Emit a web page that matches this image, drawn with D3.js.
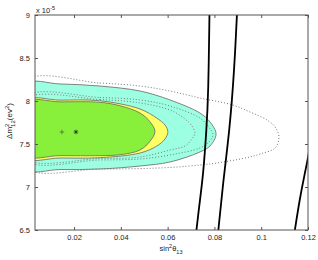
<!DOCTYPE html>
<html>
<head>
<meta charset="utf-8">
<script src="https://cdn.jsdelivr.net/npm/d3@7"></script>
<style>
body { margin: 0; background: #fff; }
text { font-family: "Liberation Sans", Arial, sans-serif; fill: #222; }
</style>
</head>
<body>
<svg id="chart" width="318" height="260"></svg>
<script>
// tick values
const xTicks = [0.02, 0.04, 0.06, 0.08, 0.1, 0.12]
const yTicks = [6.5, 7, 7.5, 8, 8.5, 9]

// filled regions, [sin^2 theta13, dm2 (1e-5 eV^2)]
const region99 = [[-0.001, 8.192], [0.014, 8.198], [0.031, 8.174], [0.0482, 8.116], [0.061, 8.012],
    [0.0738, 7.86], [0.0781, 7.756], [0.0807, 7.616], [0.0781, 7.477], [0.0738, 7.407],
    [0.061, 7.291], [0.0482, 7.244], [0.031, 7.209], [0.014, 7.203], [-0.001, 7.215]]
const region95 = [[-0.001, 8.003], [0.014, 8.01], [0.031, 8.003], [0.0482, 7.907], [0.0554, 7.80],
    [0.0589, 7.72], [0.0601, 7.643], [0.0589, 7.56], [0.0554, 7.477], [0.0482, 7.395],
    [0.031, 7.341], [0.014, 7.337], [-0.001, 7.343]]
const region90 = [[-0.001, 7.985], [0.014, 7.99], [0.031, 7.985], [0.0396, 7.945], [0.0482, 7.86],
    [0.0524, 7.76], [0.0546, 7.645], [0.0524, 7.53], [0.0482, 7.43], [0.0396, 7.375],
    [0.031, 7.365], [0.014, 7.365], [-0.001, 7.37]]

// dotted contours
const dottedInner = [[-0.001, 8.017], [0.031, 8.017], [0.0482, 7.977], [0.061, 7.895], [0.0674, 7.791],
    [0.0704, 7.709], [0.0717, 7.628], [0.0704, 7.558], [0.0674, 7.477], [0.061, 7.43],
    [0.0482, 7.349], [0.031, 7.331], [-0.001, 7.337]]
const dottedMiddle = [[-0.001, 8.047], [0.031, 8.041], [0.0482, 8.012], [0.061, 7.942], [0.0738, 7.802],
    [0.0772, 7.709], [0.0794, 7.605], [0.0772, 7.512], [0.0738, 7.453], [0.061, 7.372],
    [0.0482, 7.326], [0.031, 7.314], [-0.001, 7.314]]
const dottedOuter = [[-0.001, 8.233], [0.031, 8.209], [0.0482, 8.174], [0.061, 8.116], [0.0738, 8.035],
    [0.0879, 7.953], [0.0952, 7.872], [0.1025, 7.779], [0.1059, 7.698], [0.1076, 7.581],
    [0.1059, 7.453], [0.0995, 7.384], [0.0952, 7.349], [0.0811, 7.279], [0.0738, 7.256],
    [0.061, 7.227], [0.031, 7.209], [-0.001, 7.233]]

// solid black bounds
const boundA = [[0.0779, 9.05], [0.0774, 8.07], [0.0766, 7.663], [0.0752, 7.14], [0.0738, 6.849], [0.0721, 6.45]]
const boundB = [[0.0897, 9.05], [0.0885, 8.36], [0.0865, 7.663], [0.0838, 7.081], [0.0815, 6.45]]
const boundC = [[0.1141, 6.45], [0.1166, 6.884], [0.1185, 7.14], [0.12, 7.337], [0.1213, 7.547]]

// best fit points
const bestPlus = [0.0148, 7.64]
const bestStar = [0.0208, 7.64]

let mLeft = 35, mRight = 308, mTop = 15, mBottom = 230

const svg = d3.select("#chart")

const x = d3.scaleLinear().domain([0.0033, 0.12]).range([mLeft, mRight])
const y = d3.scaleLinear().domain([6.5, 9]).range([mBottom, mTop])

svg.append("clipPath").attr("id", "plotclip")
    .append("rect")
    .attr("x", mLeft).attr("y", mTop)
    .attr("width", mRight - mLeft).attr("height", mBottom - mTop)

const plot = svg.append("g").attr("clip-path", "url(#plotclip)")

let closedLine = d3.line()
    .x(d => x(d[0]))
    .y(d => y(d[1]))
    .curve(d3.curveCatmullRomClosed.alpha(0.5))

// bounds are smooth, so a basis spline is enough
let openLine = d3.line()
    .x(d => x(d[0]))
    .y(d => y(d[1]))
    .curve(d3.curveBasis)

// filled regions, biggest first
let regions = [
    { pts: region99, fill: "#9dffe2" },
    { pts: region95, fill: "#ffff66" },
    { pts: region90, fill: "#88f03a" }
]
plot.selectAll("path.region")
    .data(regions)
    .join("path")
    .attr("class", "region")
    .attr("d", d => closedLine(d.pts))
    .attr("fill", d => d.fill)
    .attr("stroke", "#666")
    .attr("stroke-width", 0.8)

// dotted contours
plot.selectAll("path.dotted")
    .data([dottedInner, dottedMiddle, dottedOuter])
    .join("path")
    .attr("class", "dotted")
    .attr("d", closedLine)
    .attr("fill", "none")
    .attr("stroke", "#777")
    .attr("stroke-width", 1)
    .attr("stroke-dasharray", "1,2")

// black bounds
plot.selectAll("path.bound")
    .data([boundA, boundB, boundC])
    .join("path")
    .attr("class", "bound")
    .attr("d", openLine)
    .attr("fill", "none")
    .attr("stroke", "#000")
    .attr("stroke-width", 1.8)

// markers
let s = 2.3
let px = x(bestPlus[0]), py = y(bestPlus[1])
svg.append("path")
    .attr("d", `M${px - s},${py}H${px + s}M${px},${py - s}V${py + s}`)
    .attr("stroke", "#555").attr("stroke-width", 0.7)
let sx = x(bestStar[0]), sy = y(bestStar[1])
let d2 = s * 0.7
svg.append("path")
    .attr("d", `M${sx - s},${sy}H${sx + s}M${sx},${sy - s}V${sy + s}` +
        `M${sx - d2},${sy - d2}L${sx + d2},${sy + d2}M${sx - d2},${sy + d2}L${sx + d2},${sy - d2}`)
    .attr("stroke", "#222").attr("stroke-width", 0.7)

// axes, ticks pointing inward
let fmt = d => String(d)
let axisColor = "#555"

let gBottom = svg.append("g").attr("transform", `translate(0,${mBottom})`)
    .call(d3.axisBottom(x).tickValues(xTicks).tickSize(-3).tickPadding(5).tickFormat(fmt))
let gTop = svg.append("g").attr("transform", `translate(0,${mTop})`)
    .call(d3.axisTop(x).tickValues(xTicks).tickSize(-3).tickFormat(""))
let gLeft = svg.append("g").attr("transform", `translate(${mLeft},0)`)
    .call(d3.axisLeft(y).tickValues(yTicks).tickSize(-3).tickPadding(5).tickFormat(fmt))
let gRight = svg.append("g").attr("transform", `translate(${mRight},0)`)
    .call(d3.axisRight(y).tickValues(yTicks).tickSize(-3).tickFormat(""))

for (let g of [gBottom, gTop, gLeft, gRight]) {
    g.select(".domain").remove()
    g.selectAll("line").attr("stroke", axisColor)
    g.selectAll("text").attr("font-size", 7.5).attr("fill", "#222")
        .attr("font-family", "'Liberation Sans', Arial, sans-serif")
}

svg.append("rect")
    .attr("x", mLeft).attr("y", mTop)
    .attr("width", mRight - mLeft).attr("height", mBottom - mTop)
    .attr("fill", "none")
    .attr("stroke", axisColor)
    .attr("stroke-width", 1)

// exponent note
let expo = svg.append("text").attr("x", mLeft + 1).attr("y", 13).attr("font-size", 7.5)
expo.append("tspan").text("x 10")
expo.append("tspan").attr("dy", -3).attr("font-size", 5.5).text("-5")

// x label
let xl = svg.append("text").attr("x", 171).attr("y", 251)
    .attr("text-anchor", "middle").attr("font-size", 7.5)
xl.append("tspan").text("sin")
xl.append("tspan").attr("dy", -3).attr("font-size", 5.5).text("2")
xl.append("tspan").attr("dy", 3).text("θ")
xl.append("tspan").attr("dy", 2.5).attr("font-size", 5.5).text("13")

// y label
let yl = svg.append("text")
    .attr("transform", "translate(12,121) rotate(-90)")
    .attr("text-anchor", "middle").attr("font-size", 8)
yl.append("tspan").text("Δm")
yl.append("tspan").attr("dy", -3).attr("font-size", 6).text("2")
yl.append("tspan").attr("dx", -3.3).attr("dy", 5.5).attr("font-size", 6).text("12")
yl.append("tspan").attr("dy", -2.5).text("(ev")
yl.append("tspan").attr("dy", -3).attr("font-size", 6).text("2")
yl.append("tspan").attr("dy", 3).text(")")
</script>
</body>
</html>
